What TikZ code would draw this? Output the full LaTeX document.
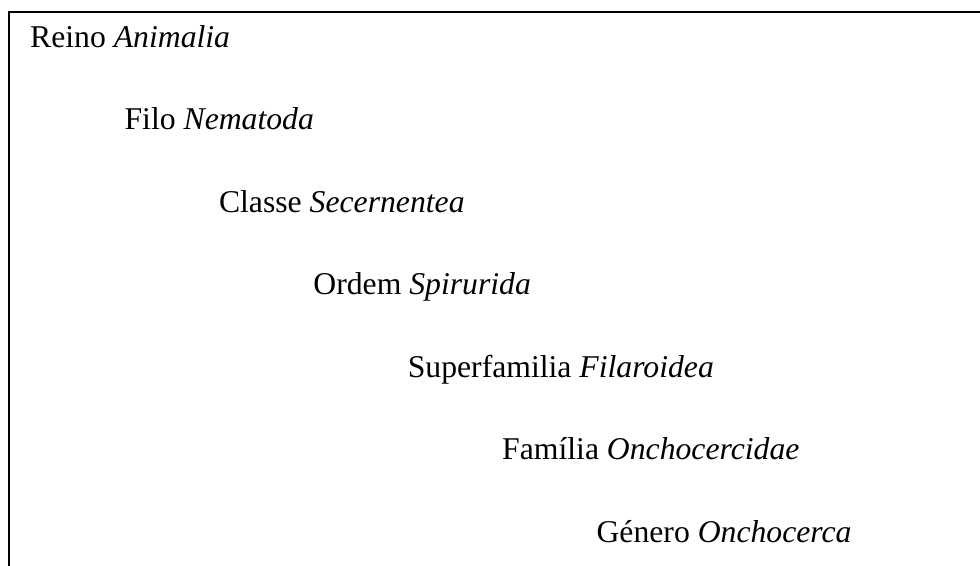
\documentclass[tikz,border=0pt]{standalone}
\usepackage{fontspec}
\setmainfont{Liberation Serif}
\usetikzlibrary{positioning}

\begin{document}
\begin{tikzpicture}[x=1pt, y=-1pt,
    every node/.style={anchor=base west, inner sep=0pt, font=\fontsize{31.7}{38}\selectfont},
    frame/.style={line width=2pt, line cap=rect}]
            \useasboundingbox (0,0) rectangle (980,565);

            % Draw the frame (left and top sides)
            \draw[frame] (9,570) -- (9,11.5) -- (985,11.5);

            % Draw the ranks
            \node (reino) at (30,47) {Reino \textit{Animalia}};
            \node (filo) at (124.4,129.5) {Filo \textit{Nematoda}};
            \node (classe) at (218.8,212) {Classe \textit{Secernentea}};
            \node (ordem) at (313.2,294.5) {Ordem \textit{Spirurida}};
            \node (superfam) at (407.6,377) {Superfamilia \textit{Filaroidea}};
            \node (familia) at (502,459.5) {Família \textit{Onchocercidae}};
            \node (genero) at (596.4,542) {Género \textit{Onchocerca}};
        \end{tikzpicture}
\end{document}
